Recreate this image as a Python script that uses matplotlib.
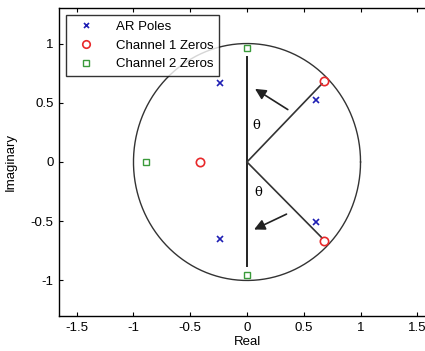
import numpy as np
import matplotlib.pyplot as plt

plt.rcParams["font.family"] = ["Liberation Sans", "DejaVu Sans"]

# pole / zero locations
ar_poles_re = [-0.24, -0.24, 0.61, 0.61]
ar_poles_im = [0.67, -0.65, 0.52, -0.51]
ch1_zeros_re = [-0.41, 0.68, 0.68]
ch1_zeros_im = [0.0, 0.68, -0.67]
ch2_zeros_re = [0.0, 0.0, -0.89]
ch2_zeros_im = [0.96, -0.95, 0.0]

fig = plt.figure(figsize=(4.25, 3.51), dpi=100)
ax = fig.add_axes([59 / 425, 35 / 351, 376 / 425, 308 / 351])

# unit circle
t = np.linspace(0, 2 * np.pi, 400)
ax.plot(np.cos(t), np.sin(t), color="#333333", lw=1.0, zorder=1)

# vertical reference line and the two angled lines
ax.plot([0, 0], [-0.88, 0.89], color="#222222", lw=1.4, zorder=1)
ax.plot([0, 0.66], [0, 0.66], color="#333333", lw=1.2, zorder=1)
ax.plot([0, 0.66], [0, -0.64], color="#333333", lw=1.2, zorder=1)

# arrows
ax.annotate("", xy=(0.05, 0.63), xytext=(0.38, 0.43),
            arrowprops=dict(arrowstyle="-|>", color="#222222", lw=1.2, mutation_scale=16))
ax.annotate("", xy=(0.04, -0.58), xytext=(0.37, -0.43),
            arrowprops=dict(arrowstyle="-|>", color="#222222", lw=1.2, mutation_scale=16))
ax.text(0.08, 0.31, "\u03b8", family="DejaVu Serif", fontsize=9.5, ha="center", va="center")
ax.text(0.10, -0.26, "\u03b8", family="DejaVu Serif", fontsize=9.5, ha="center", va="center")

ax.plot(ar_poles_re, ar_poles_im, "x", color="#1f1fb4", ms=4, mew=1.2, ls="none", label="AR Poles")
ax.plot(ch1_zeros_re, ch1_zeros_im, "o", mfc="none", mec="#e8282a", ms=6, mew=1.2, ls="none",
        label="Channel 1 Zeros")
ax.plot(ch2_zeros_re, ch2_zeros_im, "s", mfc="none", mec="#3a9a3a", ms=5, mew=1.0, ls="none",
        label="Channel 2 Zeros")

ax.set_xlim(-1.656, 1.656)
ax.set_ylim(-1.3, 1.3)
ax.set_xticks([-1.5, -1, -0.5, 0, 0.5, 1, 1.5])
ax.set_xticklabels(["-1.5", "-1", "-0.5", "0", "0.5", "1", "1.5"])
ax.set_yticks([-1, -0.5, 0, 0.5, 1])
ax.set_yticklabels(["-1", "-0.5", "0", "0.5", "1"])
ax.tick_params(direction="in", top=True, right=True, labelsize=9.5, length=3, width=0.8, pad=4)
for s in ax.spines.values():
    s.set_linewidth(1.0)
ax.set_xlabel("Real", fontsize=9.5, labelpad=2)
ax.set_ylabel("Imaginary", fontsize=9.5, labelpad=10)

leg = ax.legend(loc="upper left", fontsize=9.5, frameon=True, fancybox=False,
                edgecolor="black", borderaxespad=0.55, handletextpad=1.2,
                borderpad=0.4, labelspacing=0.5, handlelength=2.2, markerscale=0.9)
leg.get_frame().set_linewidth(1.0)

plt.savefig("out.png", dpi=100)
plt.close()
